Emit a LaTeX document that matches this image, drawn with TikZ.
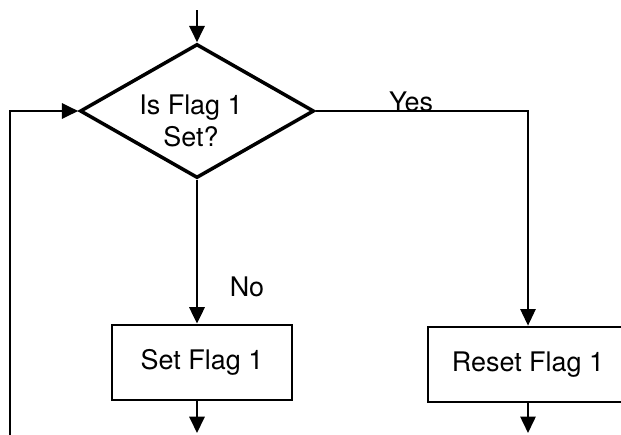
\documentclass[tikz,border=0pt]{standalone}
\usepackage{fontspec}
\setmainfont{TeX Gyre Heros}
\usetikzlibrary{shapes.geometric,arrows.meta,positioning}
\tikzset{>={Triangle[length=14pt,width=13pt]}}

\begin{document}
\begin{tikzpicture}[x=0.03cm,y=-0.03cm,
  every node/.style={font=\fontsize{23}{25}\selectfont},
  decision/.style={diamond,draw,line width=3pt,minimum width=7.02cm,minimum height=4.02cm,inner sep=0pt},
  process/.style={rectangle,draw,line width=2.4pt,minimum height=2.25cm,inner sep=0pt},
  flow/.style={->,line width=2.2pt}]
\clip (0,0) rectangle (621,434);
% decision
\node[decision] (test) at (197,111) {};
\node[align=center] (testtext) at (191,121) {Is Flag 1\\[3pt]Set?};
% the two branches
\node[process,minimum width=5.4cm] (setflag) at (202,362.5) {Set Flag 1};
\node[process,minimum width=6cm] (resetflag) at (528,364.5) {Reset Flag 1};
\node (yes) at (411,102) {Yes};
\node (no) at (247,287) {No};
% free ends
\coordinate (entry) at (197,10);
\coordinate (loop) at (10,440);
\coordinate (setout) at (197,433);
\coordinate (resetout) at (528,433);
% connectors
\draw[flow] (entry) -- (test.north);
\draw[flow] (loop) |- (test.west);
\draw[flow] (test.south) -- (test.south |- setflag.north);
\draw[flow,line width=1.3pt] (test.east) -| (resetflag.north);
\draw[flow] (setflag.south -| setout) -- (setout);
\draw[flow,line width=1.8pt] (resetflag.south) -- (resetout);
\end{tikzpicture}
\end{document}
